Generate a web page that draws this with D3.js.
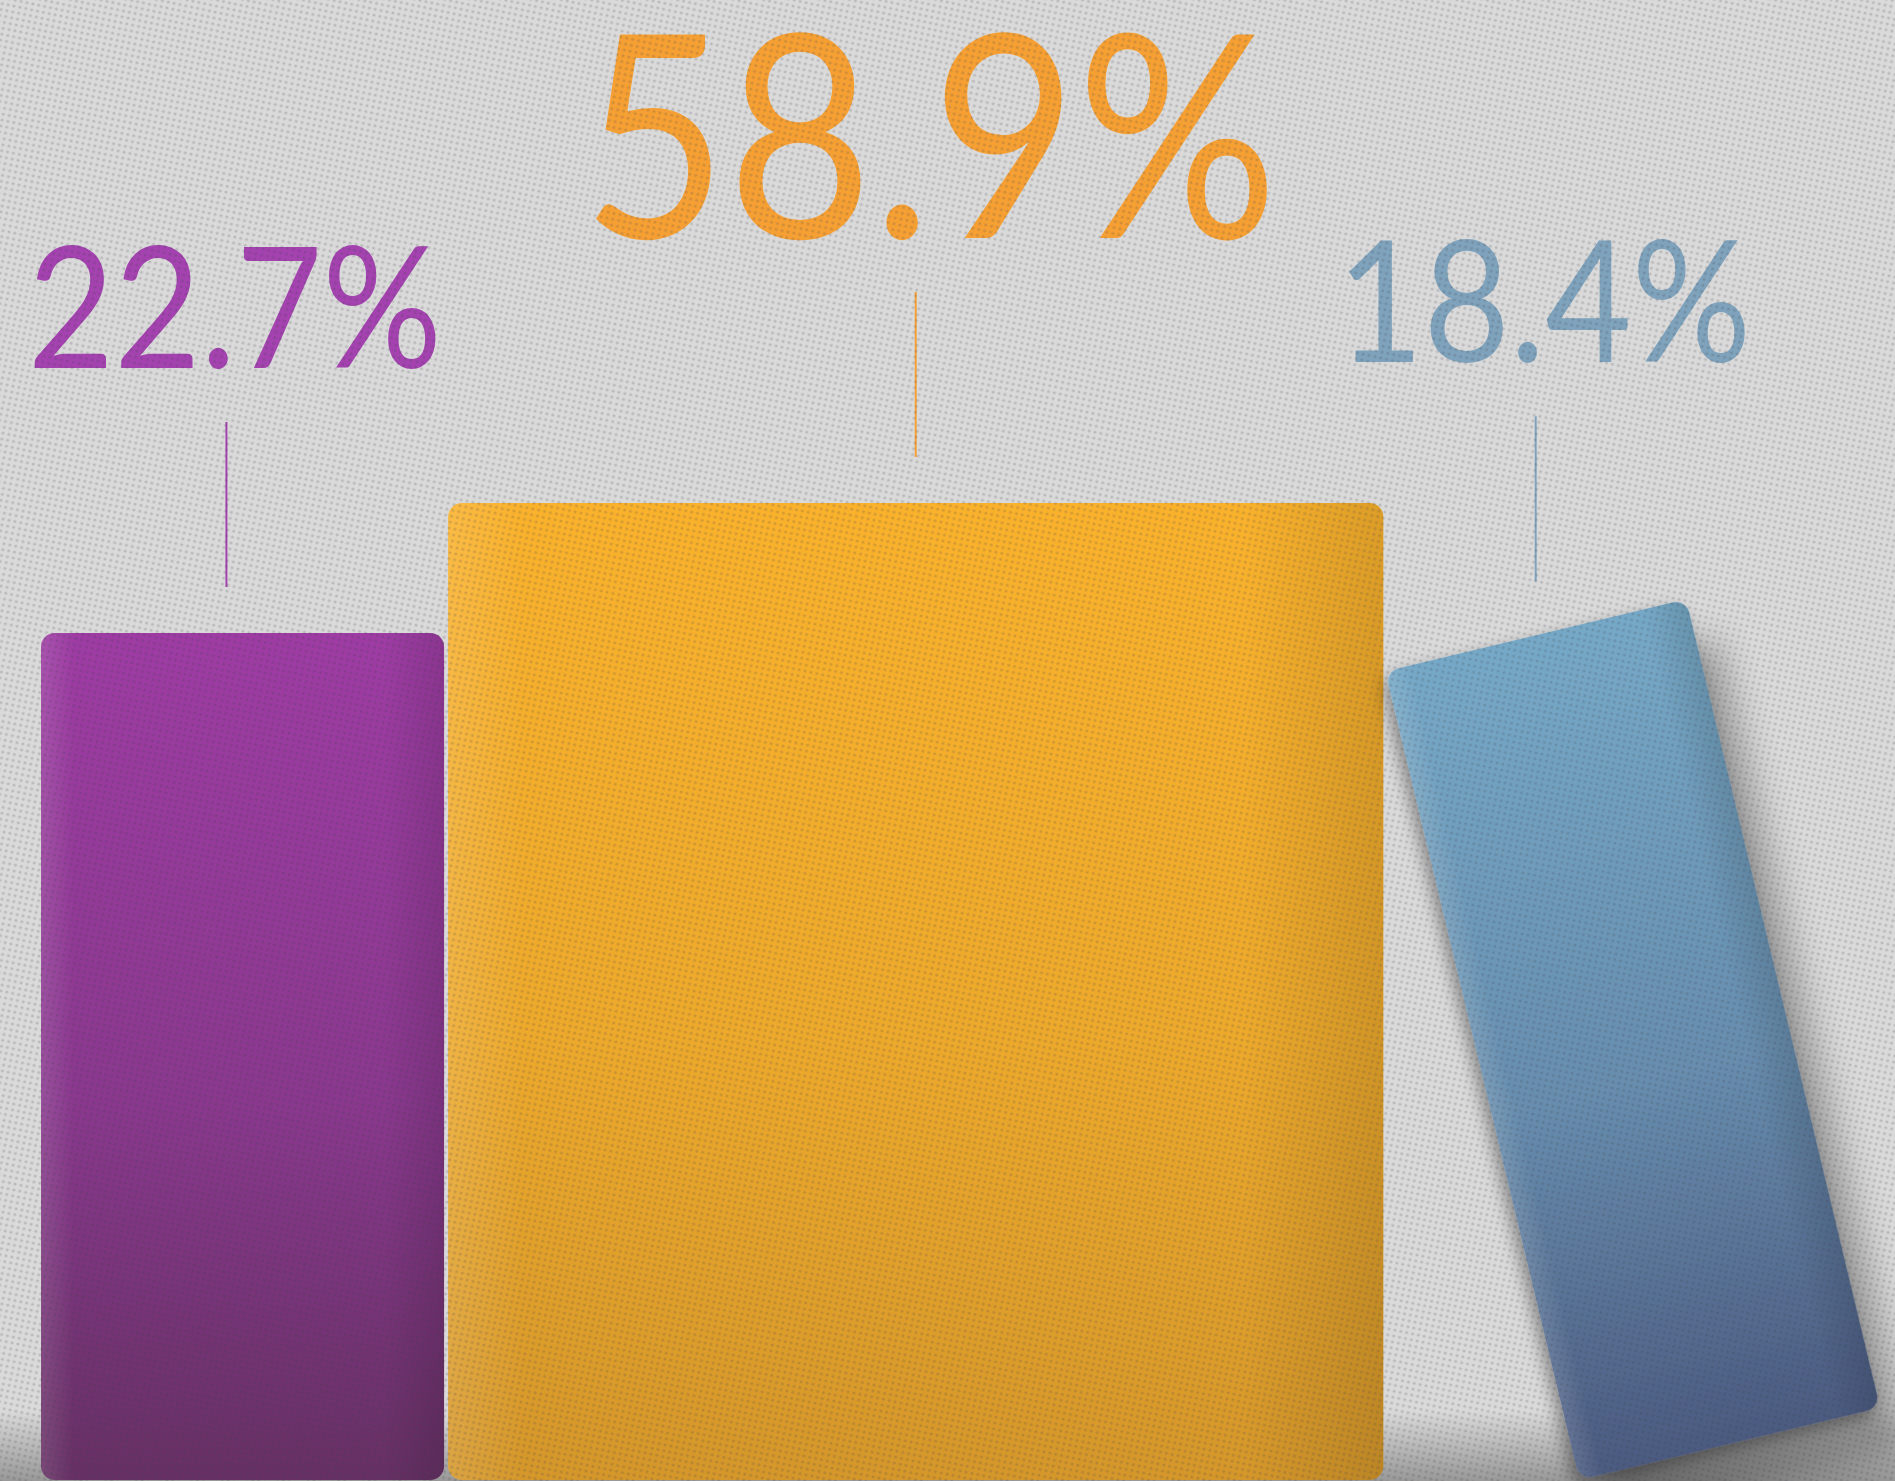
<!DOCTYPE html>
<html>
<head>
<meta charset="utf-8">
<script src="https://cdn.jsdelivr.net/npm/d3@7"></script>
<style>
  html, body { margin: 0; padding: 0; background: #d8d8d8; overflow: hidden; }
  svg { display: block; }
</style>
</head>
<body>
<svg id="chart" width="1895" height="1481"></svg>
<script>
// ---- data ----
const categories = ["Group A", "Group B", "Group C"];
const values = [22.7, 58.9, 18.4];
const valueLabels = ["22.7%", "58.9%", "18.4%"];
const palette = ["#a442b0", "#f6a033", "#7fa3bc"];          // label colours
const barTop = ["#9e3ca4", "#fab22c", "#76a9c7"];            // bar gradient top
const barBottom = ["#663064", "#d5972a", "#4b5a80"];         // bar gradient bottom

// ---- layout ----
const W = 1895, H = 1481;
const baseline = 1480;
const startX = 41, gap = 4;
const tilt = 13.5;                       // lean of the last bar (degrees)
const depth = 0.91;                      // foreshortening of the leaning bar
const rad = tilt * Math.PI / 180;

const svg = d3.select("#chart");

// scales
const yScale = d3.scaleLinear().domain([0, 100]).range([714.5, 714.5 - 359.1]);
const wScale = d3.scaleLinear().domain([0, 60]).range([69.4, 69.4 + 14.70 * 60]);
const fontScale = d3.scaleThreshold().domain([50]).range([169, 284]);
const colorScale = d3.scaleOrdinal().domain(categories).range(palette);

// build geometry from scales
const bars = [];
let cursor = startX;
values.forEach((v, i) => {
  const top = yScale(v);
  const h = baseline - top;
  const b = { cat: categories[i], v, label: valueLabels[i], i, h };
  if (i < 2) {
    b.w = wScale(v);
    b.x = cursor; b.y = top;
    b.cx = cursor + b.w / 2; b.cy = top;
    cursor += b.w + gap;
  } else {
    // leaning bar: top-left corner rests against previous bar, bottom-left on floor
    b.w = wScale(v) * depth;
    b.tx = cursor - gap + 2;
    b.ty = baseline - h * Math.cos(rad);
    b.cx = b.tx + (b.w / 2) * Math.cos(rad);
    b.cy = b.ty - (b.w / 2) * Math.sin(rad);
  }
  bars.push(b);
});

// ---- defs ----
const defs = svg.append("defs");
bars.forEach(b => {
  const g = defs.append("linearGradient").attr("id", "grad" + b.i)
    .attr("x1", 0).attr("y1", 0).attr("x2", 0).attr("y2", 1);
  g.append("stop").attr("offset", "0%").attr("stop-color", barTop[b.i]);
  g.append("stop").attr("offset", "55%").attr("stop-color", d3.interpolateRgb(barTop[b.i], barBottom[b.i])(0.35));
  g.append("stop").attr("offset", "100%").attr("stop-color", barBottom[b.i]);
  const hg = defs.append("linearGradient").attr("id", "hgrad" + b.i)
    .attr("x1", 0).attr("y1", 0).attr("x2", 1).attr("y2", 0);
  hg.append("stop").attr("offset", "0%").attr("stop-color", "#fff").attr("stop-opacity", 0.12);
  hg.append("stop").attr("offset", "8%").attr("stop-color", "#fff").attr("stop-opacity", 0);
  hg.append("stop").attr("offset", "85%").attr("stop-color", "#000").attr("stop-opacity", 0);
  hg.append("stop").attr("offset", "100%").attr("stop-color", "#000").attr("stop-opacity", 0.12);
});
const pat = defs.append("pattern").attr("id", "dots")
  .attr("width", 6).attr("height", 6).attr("patternUnits", "userSpaceOnUse")
  .attr("patternTransform", "rotate(12)");
pat.append("circle").attr("cx", 3).attr("cy", 3).attr("r", 1.6).attr("fill", "rgba(60,60,70,0.2)");

const floorGrad = defs.append("linearGradient").attr("id", "floor")
  .attr("x1", 0).attr("y1", 0).attr("x2", 0).attr("y2", 1);
floorGrad.append("stop").attr("offset", "0%").attr("stop-color", "#000").attr("stop-opacity", 0);
floorGrad.append("stop").attr("offset", "100%").attr("stop-color", "#000").attr("stop-opacity", 0.3);

const shadow = defs.append("filter").attr("id", "shadow")
  .attr("x", "-20%").attr("y", "-20%").attr("width", "140%").attr("height", "140%");
shadow.append("feDropShadow").attr("dx", -6).attr("dy", 6).attr("stdDeviation", 8)
  .attr("flood-color", "#000").attr("flood-opacity", 0.35);
const blur = defs.append("filter").attr("id", "blur")
  .attr("x", "-50%").attr("y", "-50%").attr("width", "200%").attr("height", "200%");
blur.append("feGaussianBlur").attr("stdDeviation", 18);

// ---- background ----
svg.append("rect").attr("width", W).attr("height", H).attr("fill", "#dadada");
svg.append("rect").attr("x", 0).attr("y", baseline - 70).attr("width", W).attr("height", 71)
  .attr("fill", "url(#floor)");

// shadow of the leaning bar on the floor
const lean = bars[2];
svg.append("g")
  .attr("transform", `translate(${lean.tx + 30},${lean.ty + 40}) rotate(${-tilt})`)
  .append("rect").attr("width", lean.w).attr("height", lean.h)
  .attr("fill", "#000").attr("opacity", 0.3).attr("filter", "url(#blur)");

// ---- bars ----
const r = 14;
bars.slice(0, 2).forEach(b => {
  svg.append("rect").attr("x", b.x).attr("y", b.y).attr("width", b.w).attr("height", b.h)
    .attr("rx", r).attr("fill", `url(#grad${b.i})`);
  svg.append("rect").attr("x", b.x).attr("y", b.y).attr("width", b.w).attr("height", b.h)
    .attr("rx", r).attr("fill", `url(#hgrad${b.i})`);
});
const lg = svg.append("g").attr("transform", `translate(${lean.tx},${lean.ty}) rotate(${-tilt})`);
lg.append("rect").attr("width", lean.w).attr("height", lean.h).attr("rx", r)
  .attr("fill", `url(#grad${lean.i})`).attr("filter", "url(#shadow)");
lg.append("rect").attr("width", lean.w).attr("height", lean.h).attr("rx", r)
  .attr("fill", `url(#hgrad${lean.i})`);

// ---- leader lines + labels ----
const lineGap = 46, lineLen = 165, labelGap = 54;
bars.forEach(b => {
  const c = colorScale(b.cat);
  const gapHere = b.i === 2 ? lineGap + 8 : lineGap;
  const y2 = b.cy - gapHere, y1 = y2 - lineLen;
  const lx = b.i === 0 ? b.x + b.w * 0.46 : b.cx;
  svg.append("line").attr("x1", lx).attr("x2", lx).attr("y1", y1).attr("y2", y2)
    .attr("stroke", c).attr("stroke-width", 2);
  const fs = fontScale(b.v);
  svg.append("text")
    .attr("x", lx + fs * 0.05).attr("y", y1 - labelGap)
    .attr("text-anchor", "middle")
    .attr("font-family", "Lato, 'Open Sans', sans-serif")
    .attr("font-weight", 400)
    .attr("font-size", fs)
    .attr("textLength", fs * 2.45)
    .attr("lengthAdjust", "spacingAndGlyphs")
    .attr("fill", c)
    .text(b.label);
});

// ---- halftone texture over everything ----
svg.append("rect").attr("width", W).attr("height", H).attr("fill", "url(#dots)")
  .attr("pointer-events", "none");
</script>
</body>
</html>
